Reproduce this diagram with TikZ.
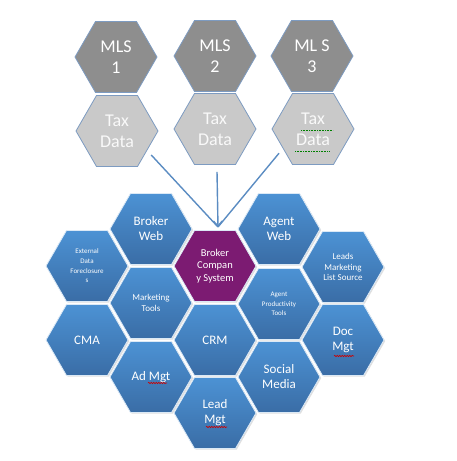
\documentclass[tikz,border=0pt]{standalone}
\usepackage{fontspec}
\setmainfont{Carlito}
\usetikzlibrary{shapes.geometric,shadows,decorations.pathmorphing,arrows.meta}
\definecolor{mlsgray}{HTML}{8E8E8E}
\definecolor{taxgray}{HTML}{C9C9C9}
\definecolor{hexedge}{HTML}{7D9BC1}
\definecolor{bluetop}{HTML}{4C92D4}
\definecolor{bluebot}{HTML}{3A6DA6}
\definecolor{purp}{HTML}{7C1B72}
\definecolor{arrowblue}{HTML}{5B8CC2}
\begin{document}
\begin{tikzpicture}[x=1pt,y=-1pt,
  hexbase/.style={regular polygon, regular polygon sides=6, minimum size=82pt, inner sep=0pt,
    align=center, text=white},
  mlshex/.style={hexbase, fill=mlsgray, draw=hexedge, line width=0.8pt,
    font=\fontsize{18}{21}\selectfont},
  taxhex/.style={hexbase, fill=taxgray, draw=hexedge, line width=0.8pt, text=white!95!gray,
    font=\fontsize{18}{21}\selectfont},
  bluehex/.style={hexbase, top color=bluetop, bottom color=bluebot, draw=white!80!bluetop, line width=0.8pt,
    drop shadow={shadow xshift=1.2pt, shadow yshift=-1.2pt, opacity=0.25}},
  purphex/.style={hexbase, fill=purp, draw=white!80!bluetop, line width=0.8pt,
    drop shadow={shadow xshift=1.2pt, shadow yshift=-1.2pt, opacity=0.25}},
  bigtxt/.style={font=\fontsize{13}{15}\selectfont},
  midtxt/.style={font=\fontsize{10.5}{12.7}\selectfont},
  smalltxt/.style={font=\fontsize{9}{10.5}\selectfont},
  tinytxt/.style={font=\fontsize{7}{9.7}\selectfont},
  feed/.style={draw=arrowblue, line width=1.4pt},
  redwave/.style={draw=red!80!black, line width=0.6pt, decorate, decoration={snake, segment length=2.5pt, amplitude=0.7pt}},
  greendot/.style={draw=green!50!black, line width=0.7pt, dash pattern=on 1pt off 0.6pt}
]
\useasboundingbox (0,0) rectangle (456,461);
% top sources
\node[mlshex] (mls1) at (116,57) {MLS\\1};
\node[mlshex] (mls2) at (215,56) {MLS\\2};
\node[mlshex] (mls3) at (312,56) {ML S\\3};
\node[taxhex] (tax1) at (117,131) {Tax\\Data};
\node[taxhex] (tax2) at (215,129) {Tax\\Data};
\node[taxhex] (tax3) at (313,129) {Tax\\Data};
% cluster
\node[bluehex, bigtxt] (bweb) at (151,229) {Broker\\Web};
\node[bluehex, bigtxt] (aweb) at (279,229) {Agent\\Web};
\node[bluehex, tinytxt] (ext) at (87,266) {External\\Data\\Foreclosure\\s};
\node[purphex, midtxt] (bcs) at (215,266) {Broker\\Compan\\y System};
\node[bluehex, smalltxt] (leads) at (343,267) {Leads\\Marketing\\List Source};
\node[bluehex, smalltxt] (mkt) at (151,303) {Marketing\\Tools};
\node[bluehex, tinytxt] (aprod) at (279,304) {Agent\\Productivity\\Tools};
\node[bluehex, bigtxt] (cma) at (87,340) {CMA};
\node[bluehex, bigtxt] (crm) at (215,340) {CRM};
\node[bluehex, bigtxt] (doc) at (343,340) {Doc\\Mgt};
\node[bluehex, bigtxt] (ad) at (151,377) {Ad Mgt};
\node[bluehex, bigtxt] (social) at (279,377) {Social\\Media};
\node[bluehex, bigtxt] (lead) at (215,413) {Lead\\Mgt};
% feeds
\coordinate (tip) at (218,227);
\draw[feed, shorten <=6pt] (tax1.-33) -- (tip);
\draw[feed, shorten <=6pt] (tax3.-147) -- (tip);
\draw[feed, shorten <=7pt, -{Straight Barb[length=5pt,width=9pt]}] (tax2.-87) -- (tip);
% spelling marks
\draw[greendot] (301,130) -- (333,130);
\draw[greendot] (295,151) -- (330,151);
\draw[redwave] (148,383) -- (167,383);
\draw[redwave] (206,427) -- (227,427);
\draw[redwave] (334,356) -- (354,356);
\end{tikzpicture}
\end{document}
